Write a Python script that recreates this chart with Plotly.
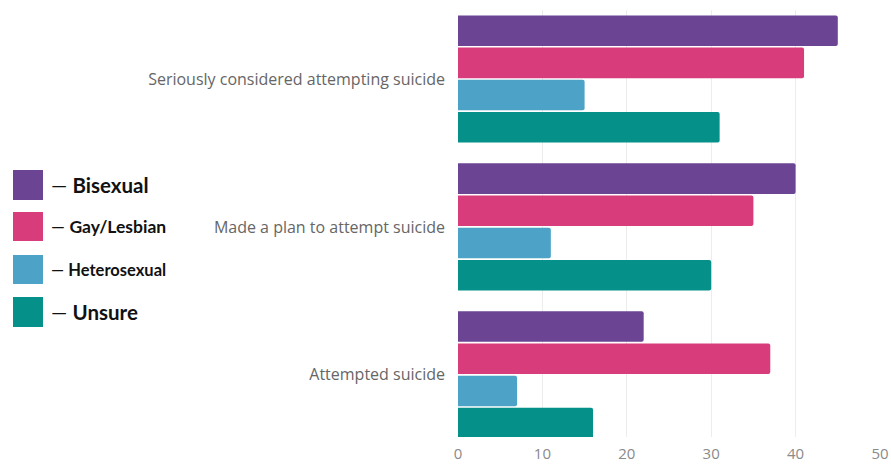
import plotly.graph_objects as go

categories = ["Seriously considered attempting suicide", "Made a plan to attempt suicide", "Attempted suicide"]
series_names = ["Bisexual", "Gay/Lesbian", "Heterosexual", "Unsure"]
bisexual = [45, 40, 22]
gay_lesbian = [41, 35, 37]
heterosexual = [15, 11, 7]
unsure = [31, 30, 16]
x_ticks = [0, 10, 20, 30, 40, 50]

colors = ["#6b4593", "#d93c7a", "#4da3c7", "#05918a"]
values = [bisexual, gay_lesbian, heterosexual, unsure]

fig = go.Figure()
for name, vals, col in zip(series_names, values, colors):
    fig.add_trace(go.Bar(
        y=categories, x=vals, name=name, orientation="h",
        marker=dict(color=col, line=dict(width=0), cornerradius=2),
        showlegend=False,
    ))

L, R, T, B = 458, 11, 10, 28
W, H = 891.0, 465.0
fig.update_layout(
    width=891, height=465,
    margin=dict(l=L, r=R, t=T, b=B, autoexpand=False),
    barmode="group", bargap=0.13, bargroupgap=0.05,
    plot_bgcolor="white", paper_bgcolor="white",
    font=dict(family="Open Sans", color="#666"),
    xaxis=dict(range=[0, 50], tickvals=x_ticks, showgrid=True, gridcolor="#ececec",
               gridwidth=1, zeroline=False, showline=False, automargin=False,
               ticklabelstandoff=6,
               tickfont=dict(size=15, color="#8a8a8a", family="Open Sans")),
    yaxis=dict(type="category", range=[2.42, -0.466], showgrid=False, zeroline=False,
               ticklabelstandoff=12, automargin=False,
               tickfont=dict(size=16, color="#666", family="Open Sans")),
)

# custom legend
legend_y = [(170, 200), (212, 241), (255, 284), (297, 327)]
legend_sizes = [20.5, 17.5, 16.5, 20.5]
pw = W - L - R
ph = H - T - B
for name, col, (y0, y1), fs in zip(series_names, colors, legend_y, legend_sizes):
    fig.add_shape(type="rect", xref="paper", yref="paper",
                  x0=(13 - L) / pw, x1=(43 - L) / pw,
                  y0=(H - B - y1) / ph, y1=(H - B - y0) / ph,
                  fillcolor=col, line=dict(width=0))
    fig.add_annotation(xref="paper", yref="paper",
                       x=(49 - L) / pw, y=(H - B - (y0 + y1) / 2) / ph,
                       xanchor="left", yanchor="middle", showarrow=False,
                       text="— <b>" + name + "</b>",
                       font=dict(family="Lato", size=fs, color="#111"))

fig.write_html("out.html")
